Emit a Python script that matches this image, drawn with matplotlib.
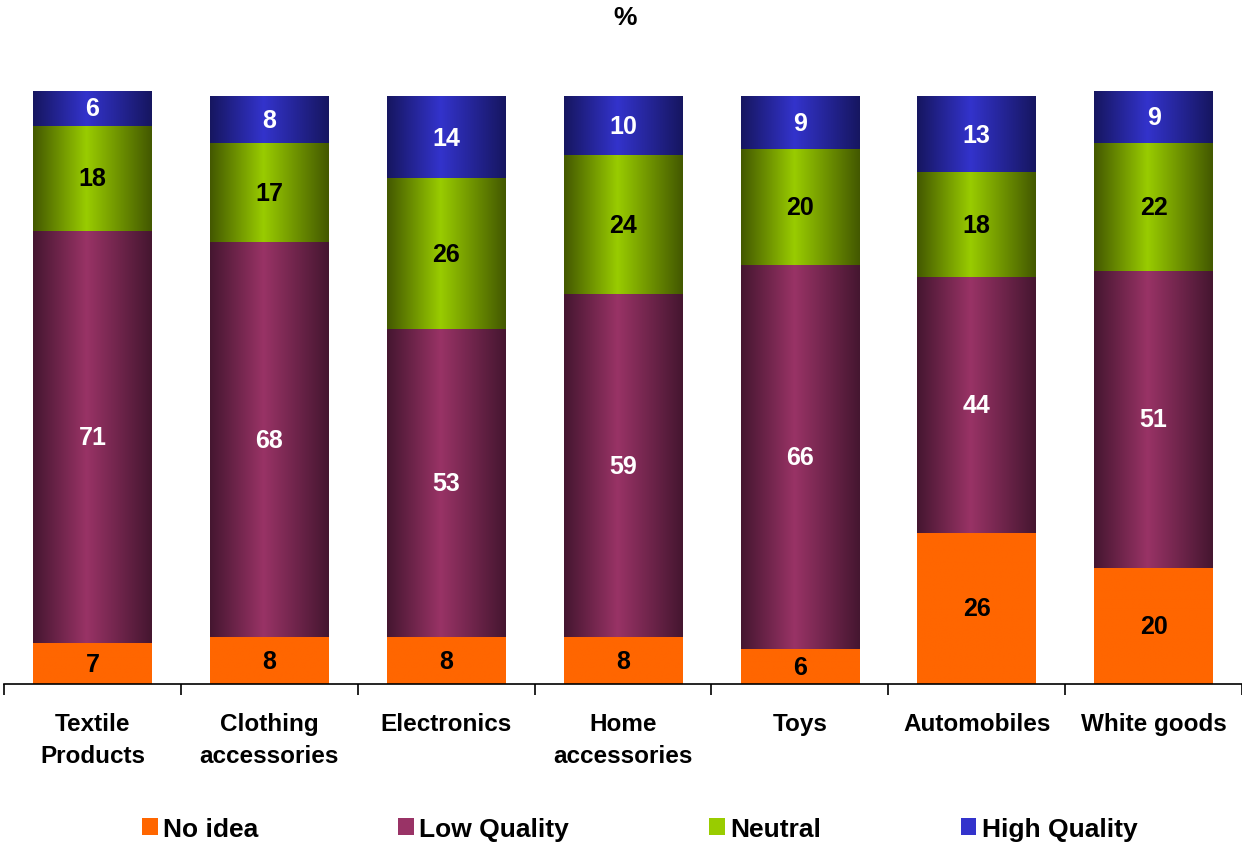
import matplotlib.pyplot as plt
import numpy as np
from matplotlib.colors import LinearSegmentedColormap
from matplotlib.patches import Patch

plt.rcParams['font.family'] = ['Liberation Sans', 'DejaVu Sans']

categories = ["Textile\nProducts", "Clothing\naccessories", "Electronics",
              "Home\naccessories", "Toys", "Automobiles", "White goods"]
series_names = ["No idea", "Low Quality", "Neutral", "High Quality"]
no_idea = [7, 8, 8, 8, 6, 26, 20]
low_quality = [71, 68, 53, 59, 66, 44, 51]
neutral = [18, 17, 26, 24, 20, 18, 22]
high_quality = [6, 8, 14, 10, 9, 13, 9]

# (edge colour, centre colour) for the shaded bars
shades = [
    ("#FF6600", "#FF6600"),
    ("#451630", "#993366"),
    ("#435800", "#99CC00"),
    ("#161660", "#3333CC"),
]
text_colors = ["black", "white", "black", "white"]

fig = plt.figure(figsize=(12.42, 8.45), dpi=100)
ax = fig.add_axes([4 / 1242, 1 - 685 / 845, 1238 / 1242, 593 / 845])

x = np.arange(len(categories))
width = 0.67
bottom = np.zeros(len(categories))
for series, (edge, centre), tc in zip([no_idea, low_quality, neutral, high_quality], shades, text_colors):
    vals = np.array(series, dtype=float)
    bars = ax.bar(x, vals, width, bottom=bottom, color="none", edgecolor="none")
    cmap = LinearSegmentedColormap.from_list("g", [(0, edge), (0.45, centre), (1, edge)])
    grad = np.linspace(0, 1, 256).reshape(1, -1)
    for rect in bars:
        x0, y0 = rect.get_x(), rect.get_y()
        w, h = rect.get_width(), rect.get_height()
        ax.imshow(grad, cmap=cmap, extent=[x0, x0 + w, y0, y0 + h],
                  aspect="auto", interpolation="bilinear", zorder=2)
    for xi, b, v in zip(x, bottom, vals):
        ax.text(xi, b + v / 2, f"{v:.0f}", ha="center", va="center",
                fontsize=18, fontweight="bold", color=tc, zorder=3)
    bottom += vals

ax.set_xlim(-0.5, len(categories) - 0.5)
ax.set_ylim(0, 102)
for s in ["top", "right", "left"]:
    ax.spines[s].set_visible(False)
ax.spines["bottom"].set_linewidth(1.2)
ax.set_yticks([])
ax.set_xticks(x)
ax.set_xticklabels(categories, fontsize=17.5, fontweight="bold", va="top", linespacing=1.5)
ax.tick_params(axis="x", which="major", length=0, pad=20)
ax.set_xticks(np.arange(-0.5, len(categories), 1), minor=True)
ax.tick_params(axis="x", which="minor", length=8, width=1.2, direction="out")

fig.text(0.503, 1 - 18 / 845, "%", ha="center", va="center", fontsize=19, fontweight="bold")

handles = [Patch(facecolor=c, edgecolor="none") for _, c in shades]
fig.legend(handles, series_names, loc="center", bbox_to_anchor=(0.515, 1 - 830 / 845),
           ncol=4, frameon=False, prop={"size": 19, "weight": "bold"},
           handlelength=0.6, handleheight=0.6, handletextpad=0.2, columnspacing=5.3)

fig.savefig("out.png", dpi=100)
